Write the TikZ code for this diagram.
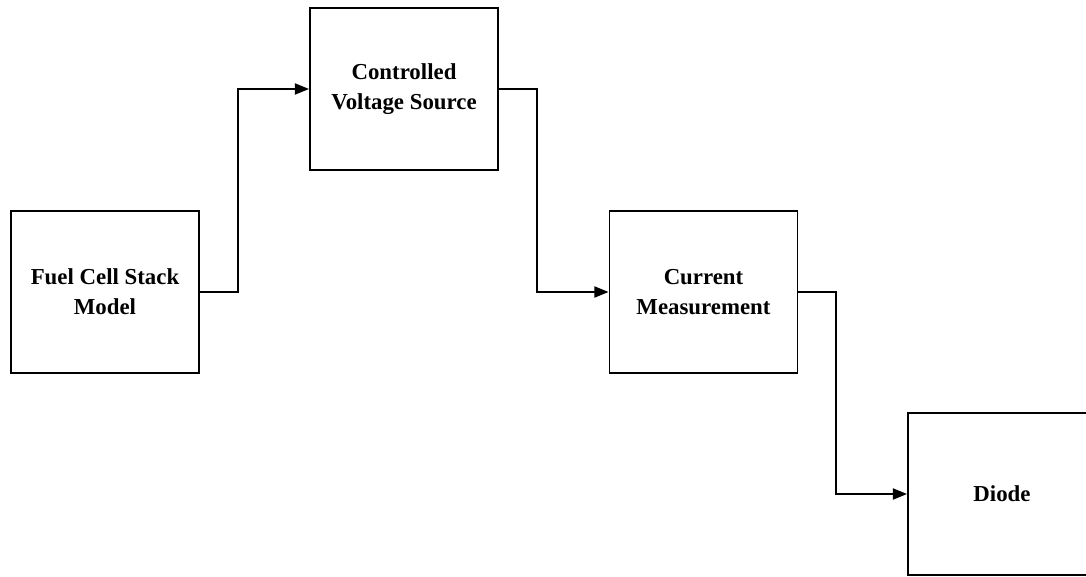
\documentclass[tikz,border=0pt]{standalone}
\usepackage{fontspec}
\setmainfont{Liberation Serif}
\usetikzlibrary{arrows.meta, positioning}
\tikzset{
    block element/.style={
        draw,line width=1.1pt,
        fill=white,
        minimum width=3.76cm,minimum height=3.24cm,
        align=center,
        font=\bfseries\fontsize{13}{17}\selectfont
    },
    >={[scale=0.9]Triangle[length=9pt,width=7pt]},
    link/.style={line width=1.1pt,->},
}
\begin{document}
\begin{tikzpicture}[x=0.02cm,y=-0.02cm]
                \useasboundingbox (0,0) rectangle (1086,577);
                \foreach \name/\x/\y/\txt in {fcs/105/292/{Fuel Cell Stack\\Model},
                    cvs/404/89/{Controlled\\Voltage Source},
                    cm/703.5/292/{Current\\Measurement},
                    diode/1002/494/{Diode}}
                \node[block element] (\name) at (\x,\y) {\txt};
                \draw[link] (fcs.east) -- ++(38,0) |- (cvs.west);
                \draw[link] (cvs.east) -- ++(38,0) |- (cm.west);
                \draw[link] (cm.east) -- ++(38,0) |- (diode.west);
            \end{tikzpicture}
\end{document}
